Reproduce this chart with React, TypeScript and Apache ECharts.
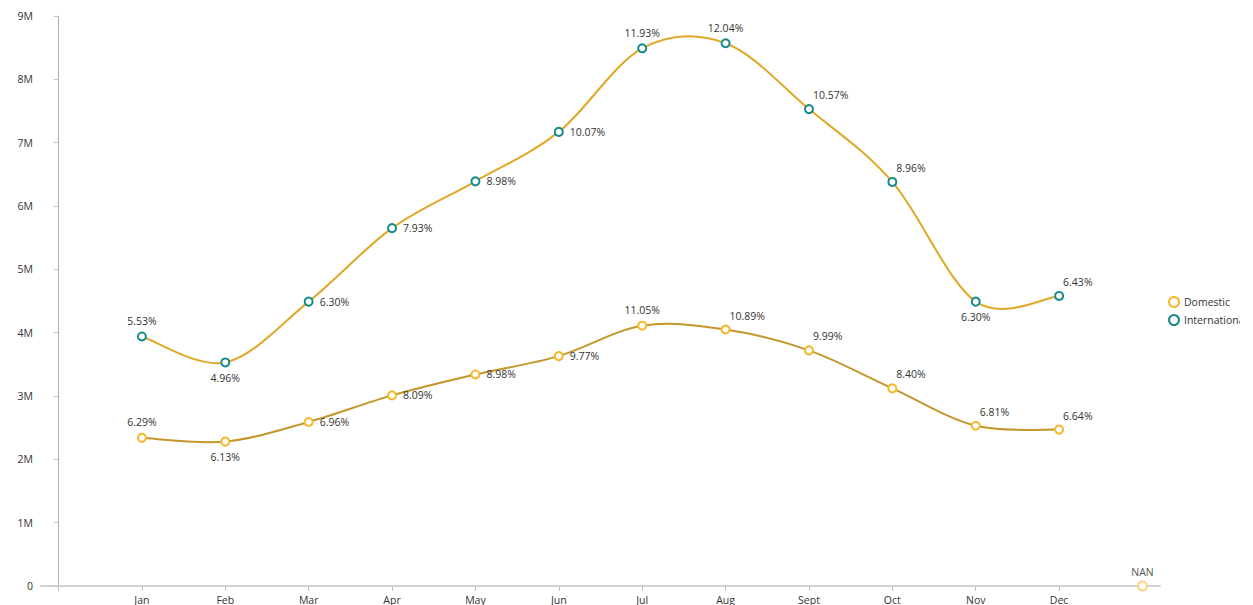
import React, { useEffect, useRef } from "react";
import * as echarts from "echarts";

// Month categories shown on the x axis (positions 1..12)
const months = ["Jan", "Feb", "Mar", "Apr", "May", "Jun", "Jul", "Aug", "Sept", "Oct", "Nov", "Dec"];

// Monthly passenger counts
const internationalValues = [3940000, 3530000, 4490000, 5650000, 6390000, 7170000, 8490000, 8570000, 7530000, 6380000, 4490000, 4580000];
const domesticValues = [2340000, 2280000, 2590000, 3010000, 3340000, 3630000, 4110000, 4050000, 3720000, 3120000, 2530000, 2470000];

// Share of the yearly total for each month
const internationalShare = ["5.53%", "4.96%", "6.30%", "7.93%", "8.98%", "10.07%", "11.93%", "12.04%", "10.57%", "8.96%", "6.30%", "6.43%"];
const domesticShare = ["6.29%", "6.13%", "6.96%", "8.09%", "8.98%", "9.77%", "11.05%", "10.89%", "9.99%", "8.40%", "6.81%", "6.64%"];

// Trailing empty bucket
const emptyBucketLabel = "NAN";
const emptyBucketValue = 0;

// Where each point label sits relative to its marker
const intlPlacement = ["top", "bottom", "right", "right", "right", "right", "top", "top", "tr", "tr", "bottom", "tr"];
const domPlacement = ["top", "bottom", "right", "right", "right", "right", "top", "tr", "tr", "tr", "tr", "tr"];

const FONT = "'Open Sans', 'Noto Sans', sans-serif";

function labelFor(p: string) {
  if (p === "tr") {
    return { position: [9, -9], align: "left", verticalAlign: "middle" };
  }
  return { position: p, distance: p === "right" ? 6 : 5 };
}

function buildData(values: number[], shares: string[], placement: string[]) {
  return values.map((v, i) => ({
    value: [i + 1, v],
    label: { ...labelFor(placement[i]), formatter: shares[i] },
  }));
}

// Cardinal (Catmull-Rom style) curve through the projected points, drawn as bezier segments
function cardinalRenderer(values: number[], color: string) {
  return (params: any, api: any) => {
    if (params.dataIndex !== 0) return null;
    const pts = values.map((v, i) => api.coord([i + 1, v]));
    const n = pts.length;
    const children: any[] = [];
    for (let i = 0; i < n - 1; i++) {
      const p0 = pts[Math.max(0, i - 1)];
      const p1 = pts[i];
      const p2 = pts[i + 1];
      const p3 = pts[Math.min(n - 1, i + 2)];
      children.push({
        type: "bezierCurve",
        shape: {
          x1: p1[0],
          y1: p1[1],
          cpx1: p1[0] + (p2[0] - p0[0]) / 6,
          cpy1: p1[1] + (p2[1] - p0[1]) / 6,
          cpx2: p2[0] - (p3[0] - p1[0]) / 6,
          cpy2: p2[1] - (p3[1] - p1[1]) / 6,
          x2: p2[0],
          y2: p2[1],
        },
        style: { stroke: color, lineWidth: 2, fill: null },
      });
    }
    return { type: "group", children };
  };
}

export default function App() {
  const ref = useRef<HTMLDivElement>(null);

  useEffect(() => {
    if (!ref.current) return;
    const chart = echarts.init(ref.current, undefined, { renderer: "svg" });
    const labelBase = {
      show: true,
      color: "#333",
      fontSize: 10.5,
      fontFamily: FONT,
    };
    chart.setOption({
      animation: false,
      textStyle: { fontFamily: FONT },
      grid: { left: 41, right: 80, top: 16, bottom: 19, containLabel: false },
      legend: {
        orient: "vertical",
        left: 1163,
        top: 291,
        data: ["Domestic", "International"],
        icon: "emptyCircle",
        itemWidth: 10,
        itemHeight: 10,
        itemGap: 6,
        itemStyle: { borderWidth: 2.5 },
        textStyle: { color: "#333", fontSize: 10.5, fontFamily: FONT },
      },
      xAxis: {
        type: "value",
        min: -0.21,
        max: 13.21,
        splitLine: { show: false },
        axisLine: { show: true, lineStyle: { color: "#d2d2d2", width: 2 } },
        axisTick: {
          show: true,
          length: 5,
          lineStyle: { color: "#bdbdbd" },
          customValues: [0, 1, 2, 3, 4, 5, 6, 7, 8, 9, 10, 11, 12],
        },
        axisLabel: {
          color: "#333",
          fontSize: 10.5,
          fontFamily: FONT,
          margin: 8,
          customValues: [1, 2, 3, 4, 5, 6, 7, 8, 9, 10, 11, 12],
          formatter: (v: number) => months[Math.round(v) - 1] ?? "",
        },
      },
      yAxis: {
        type: "value",
        min: 0,
        max: 9000000,
        interval: 1000000,
        splitLine: { show: false },
        axisLine: { show: true, lineStyle: { color: "#b0b0b0", width: 1 } },
        axisTick: { show: true, length: 5, lineStyle: { color: "#c8c8c8" } },
        axisLabel: {
          color: "#333",
          fontSize: 10.5,
          fontFamily: FONT,
          margin: 8,
          formatter: (v: number) => (v === 0 ? "0" : v / 1000000 + "M"),
        },
      },
      series: [
        {
          name: "Domestic curve",
          type: "custom",
          renderItem: cardinalRenderer(domesticValues, "#c4962a"),
          data: domesticValues.map((v, i) => [i + 1, v]),
          encode: { x: 0, y: 1 },
          silent: true,
          z: 2,
        },
        {
          name: "International curve",
          type: "custom",
          renderItem: cardinalRenderer(internationalValues, "#e0a825"),
          data: internationalValues.map((v, i) => [i + 1, v]),
          encode: { x: 0, y: 1 },
          silent: true,
          z: 2,
        },
        {
          name: "Domestic",
          type: "line",
          symbol: "emptyCircle",
          symbolSize: 8,
          itemStyle: { color: "#f6b82a", borderWidth: 2 },
          lineStyle: { color: "#c4962a", width: 0, opacity: 0 },
          label: labelBase,
          data: buildData(domesticValues, domesticShare, domPlacement),
          z: 3,
        },
        {
          name: "International",
          type: "line",
          symbol: "emptyCircle",
          symbolSize: 8,
          itemStyle: { color: "#178a8f", borderWidth: 2 },
          lineStyle: { color: "#e0a825", width: 0, opacity: 0 },
          label: labelBase,
          data: buildData(internationalValues, internationalShare, intlPlacement),
          z: 3,
        },
        {
          name: emptyBucketLabel,
          type: "line",
          symbol: "emptyCircle",
          symbolSize: 9,
          itemStyle: { color: "#fbd27e", borderWidth: 2 },
          lineStyle: { width: 0, opacity: 0 },
          label: {
            ...labelBase,
            color: "#555",
            position: "top",
            distance: 3,
            formatter: emptyBucketLabel,
          },
          data: [[13, emptyBucketValue]],
          z: 4,
        },
      ],
    });
    return () => chart.dispose();
  }, []);

  return (
    <div
      ref={ref}
      style={{ position: "absolute", left: 0, top: 0, width: 1240, height: 605, overflow: "hidden" }}
    />
  );
}
